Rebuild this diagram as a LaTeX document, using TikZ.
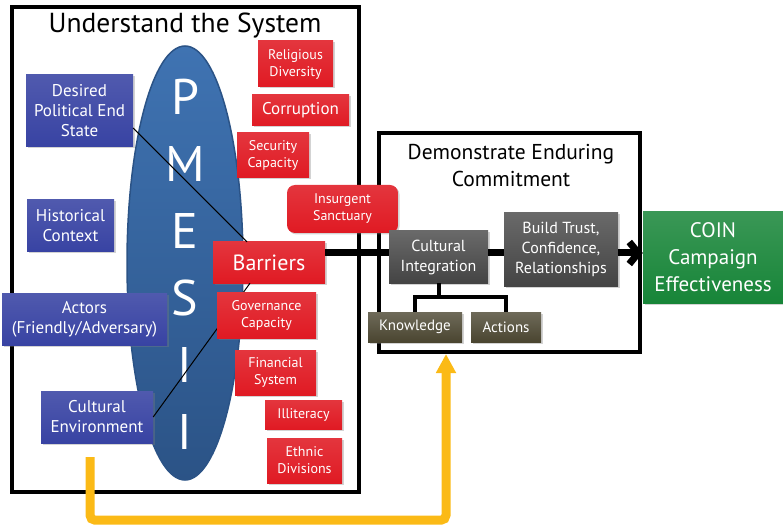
\documentclass[tikz,border=0pt]{standalone}
\usepackage{fontspec}
\setmainfont{PT Sans}
\usetikzlibrary{arrows.meta,shadows}
\definecolor{coinBlue}{HTML}{3843A3}
\definecolor{coinRed}{HTML}{E01A23}
\definecolor{coinGray}{HTML}{444444}
\definecolor{coinOlive}{HTML}{4A4530}
\definecolor{coinGreen}{HTML}{178538}
\definecolor{coinSky}{HTML}{3F73B2}
\definecolor{coinDeep}{HTML}{2B5386}
\definecolor{coinGold}{HTML}{FBBA16}
\tikzset{
  coin frame/.style={draw=black, line width=4pt, inner sep=0pt},
  coin title/.style={align=center, text=black},
  coin letter/.style={text=white, inner sep=0pt, font=\fontsize{50}{50}\selectfont},
  coin box/.style={rectangle, inner sep=0pt, align=center, text=white,
    drop shadow={shadow xshift=1.5pt, shadow yshift=-1.5pt, opacity=0.35}},
  coin blue/.style={coin box, top color=coinBlue!88!white, bottom color=coinBlue,
    font=\fontsize{17}{20}\selectfont},
  coin red/.style={coin box, top color=coinRed!88!white, bottom color=coinRed,
    font=\fontsize{14}{17}\selectfont},
  coin gray/.style={coin box, top color=coinGray!80!white, bottom color=coinGray,
    font=\fontsize{16}{20}\selectfont},
  coin olive/.style={coin box, top color=coinOlive!80!white, bottom color=coinOlive,
    font=\fontsize{15}{18}\selectfont},
  coin green/.style={coin box, top color=coinGreen!85!white, bottom color=coinGreen,
    font=\fontsize{21}{27}\selectfont},
  coin link/.style={draw=black, line width=7pt},
  coin fork/.style={draw=black, line width=4pt},
  coin thin/.style={draw=black, line width=1pt},
  coin feedback/.style={draw=coinGold, line width=9pt, rounded corners=5pt,
    -{Triangle[length=19pt,width=19pt]}},
}

\begin{document}
\begin{tikzpicture}[x=1pt, y=-1pt]
  \useasboundingbox (0,0) rectangle (783,526);

  % Frames and their titles
  \node[coin frame, minimum width=347pt, minimum height=485pt] (system) at (185.5,249.5) {};
  \node[coin title, font=\fontsize{27.5}{30}\selectfont] (system title) at (185,26) {Understand the System};
  \node[coin frame, minimum width=261pt, minimum height=219pt] (commit) at (509.5,242.5) {};
  \node[coin title, font=\fontsize{21.5}{27}\selectfont] (commit title) at (511,166) {Demonstrate Enduring\\Commitment};

  % PMESII ellipse
  \draw[draw=coinDeep, line width=1.5pt, top color=coinSky, bottom color=coinDeep]
    (185,263) ellipse [x radius=58, y radius=217];
  \foreach \l [count=\k] in {P,M,E,S,I,I} {
    \node[coin letter] (pmesii-\k) at (185, 30+67*\k) {\l};
  }

  % Left column
  \node[coin blue, minimum width=107pt, minimum height=72pt] (desired) at (79.5,111) {Desired\\Political End\\State};
  \node[coin blue, minimum width=87pt, minimum height=52pt] (historical) at (70.5,226) {Historical\\Context};
  \node[coin blue, minimum width=165pt, minimum height=52pt] (actors) at (84.5,319) {Actors\\(Friendly/Adversary)};
  \node[coin blue, minimum width=112pt, minimum height=52pt] (cultenv) at (97,417) {Cultural\\Environment};

  % Barriers and the lines feeding it
  \node[coin red, minimum width=112pt, minimum height=41pt, font=\fontsize{22}{24}\selectfont] (barriers) at (269,262.5) {Barriers};
  \draw[coin thin] ([yshift=-17pt]desired.east) -- ([xshift=-22pt]barriers.north);
  \draw[coin thin] (cultenv.east) -- ([xshift=-19pt]barriers.south);

  % Right column of barriers
  \node[coin red, minimum width=75pt, minimum height=46pt] (religious) at (295.5,64) {Religious\\Diversity};
  \node[coin red, minimum width=97pt, minimum height=31pt, font=\fontsize{17}{20}\selectfont] (corruption) at (300.5,110.5) {Corruption};
  \node[coin red, minimum width=72pt, minimum height=45pt] (security) at (273,155.5) {Security\\Capacity};
  \node[coin red, minimum width=111pt, minimum height=48pt, rounded corners=8pt] (insurgent) at (342.5,209) {Insurgent\\Sanctuary};
  \node[coin red, minimum width=99pt, minimum height=46pt] (governance) at (266.5,315) {Governance\\Capacity};
  \node[coin red, minimum width=81pt, minimum height=45pt] (financial) at (275.5,372.5) {Financial\\System};
  \node[coin red, minimum width=77pt, minimum height=29pt] (illiteracy) at (303.5,414.5) {Illiteracy};
  \node[coin red, minimum width=75pt, minimum height=45pt] (ethnic) at (304.5,460.5) {Ethnic\\Divisions};

  % Commitment chain
  \node[coin gray, minimum width=99pt, minimum height=52pt] (culint) at (438.5,257) {Cultural\\Integration};
  \node[coin gray, minimum width=114pt, minimum height=73pt] (trust) at (561,249.5) {Build Trust,\\Confidence,\\Relationships};
  \node[coin olive, minimum width=94pt, minimum height=30pt] (knowledge) at (415,327) {Knowledge};
  \node[coin olive, minimum width=70pt, minimum height=30pt] (actions) at (506,327) {Actions};
  \node[coin green, minimum width=140pt, minimum height=91pt] (coin) at (713,257.5) {COIN\\Campaign\\Effectiveness};

  \coordinate (chain) at (0,253);
  \draw[coin link] (barriers.east |- chain) -- (culint.west |- chain);
  \draw[coin link] (culint.east |- chain) -- (trust.west |- chain);
  \draw[coin link, -{Straight Barb[length=9pt,width=22pt]}] (trust.east |- chain) -- (coin.west |- chain);

  \draw[coin fork] (culint.south) -- ++(0,14) coordinate (fork);
  \draw[coin fork] (knowledge.north) |- (fork) -| (actions.north);

  % Feedback into the commitment box
  \draw[coin feedback] ([xshift=-7pt,yshift=-14pt]cultenv.south) -- ++(0,63) -| ([xshift=-63.5pt]commit.south);
\end{tikzpicture}
\end{document}
